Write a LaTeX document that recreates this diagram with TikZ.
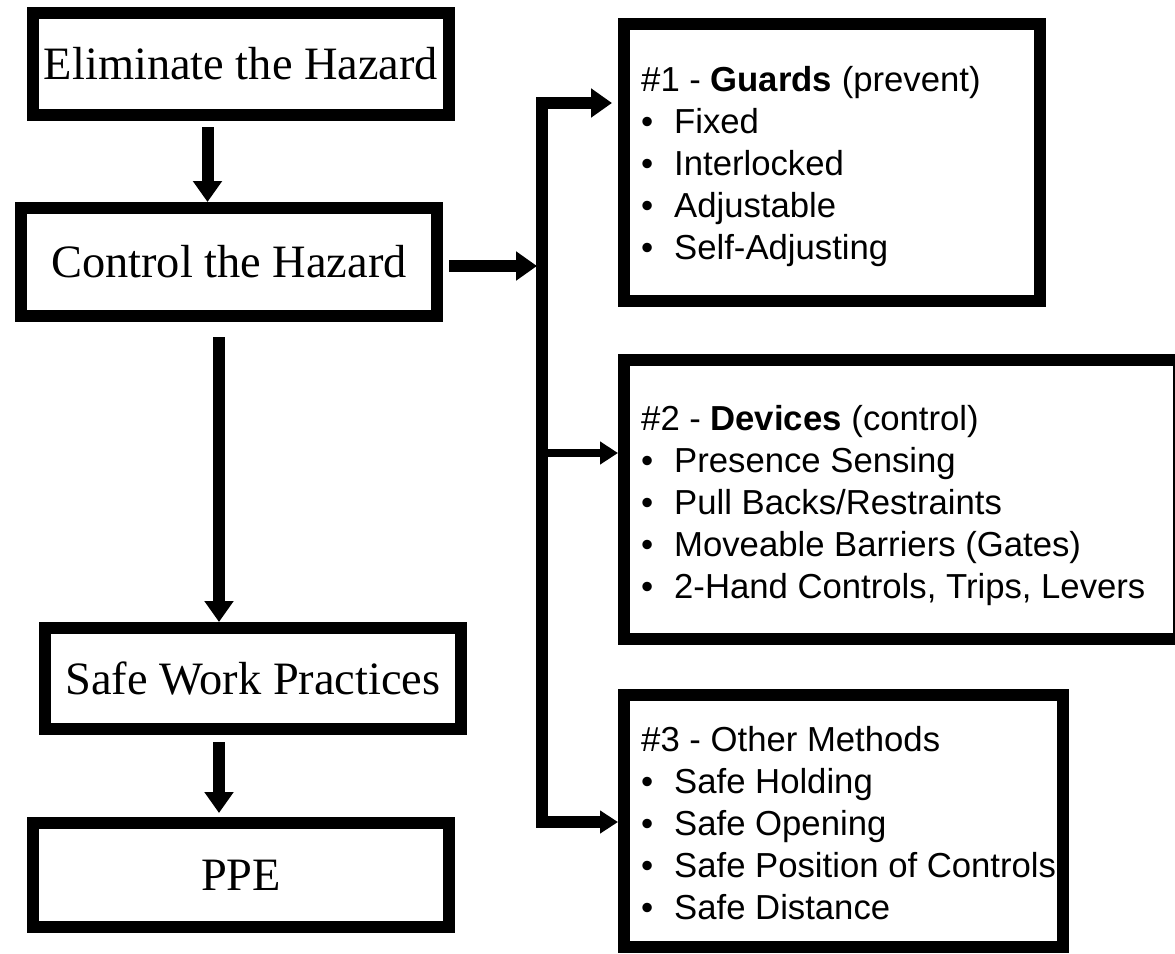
\documentclass[tikz,border=0pt]{standalone}
\usepackage{fontspec}
\setmainfont{Liberation Serif}
\setsansfont{Liberation Sans}
\usetikzlibrary{arrows.meta}
\newcommand{\itembul}{\makebox[33pt][l]{\textbullet}}
\begin{document}
\begin{tikzpicture}[x=1pt,y=-1pt,
  hazard/.style={draw,line width=12pt,minimum width=416pt,minimum height=104pt,inner sep=0pt,font=\fontsize{46.4pt}{50pt}\selectfont},
  method/.style={draw,line width=12pt,inner sep=0pt},
  items/.style={anchor=base west,inner sep=0pt,font=\sffamily\fontsize{34.7pt}{42pt}\selectfont},
  arr/.style={line width=12pt,-{Triangle[length=21pt,width=28pt]}},
  thin arr/.style={line width=8pt,-{Triangle[length=18pt,width=22pt]}}]
\useasboundingbox (0,0) rectangle (1175,953);
\node[hazard,minimum height=102pt] (elim) at (241,64) {Eliminate the Hazard};
\node[hazard,minimum height=108pt] (control) at (229,262) {Control the Hazard};
\node[hazard,minimum height=101pt] (safe) at (253,678.5) {Safe Work Practices};
\node[hazard] (ppe) at (241,875) {PPE};
\node[method,minimum width=416pt,minimum height=277pt] (guards) at (832,162.5) {};
\node[method,minimum width=555pt,minimum height=279pt] (devices) at (901.5,499.5) {};
\node[method,minimum width=439pt,minimum height=252pt] (other) at (843.5,821) {};
\node[items] (guardslist) at (641,91) {\begin{tabular}[t]{@{}l@{}}
  \#1 - \textbf{Guards} (prevent)\\
  \itembul Fixed\\
  \itembul Interlocked\\
  \itembul Adjustable\\
  \itembul Self-Adjusting
\end{tabular}};
\node[items] (deviceslist) at (641,430) {\begin{tabular}[t]{@{}l@{}}
  \#2 - \textbf{Devices} (control)\\
  \itembul Presence Sensing\\
  \itembul Pull Backs/Restraints\\
  \itembul Moveable Barriers (Gates)\\
  \itembul 2-Hand Controls, Trips, Levers
\end{tabular}};
\node[items] (otherlist) at (641,751) {\begin{tabular}[t]{@{}l@{}}
  \#3 - Other Methods\\
  \itembul Safe Holding\\
  \itembul Safe Opening\\
  \itembul Safe Position of Controls\\
  \itembul Safe Distance
\end{tabular}};
\coordinate (bustop) at (542,103);
\coordinate (busin) at (542,266);
\coordinate (busdev) at (542,453);
\coordinate (busbot) at (542,822);
\draw[arr,shorten <=6pt] ([xshift=-33.5pt]elim.south) -- ([xshift=-21.5pt]control.north);
\draw[arr,shorten <=15pt] ([xshift=-10pt]control.south) -- ([xshift=-34pt]safe.north);
\draw[arr,shorten <=7pt,shorten >=4pt] ([xshift=-34pt]safe.south) -- ([xshift=-22pt]ppe.north);
\draw[arr,shorten <=6pt,shorten >=5pt] ([yshift=-4pt]control.east) -- (busin);
\draw[arr,{Triangle[length=21pt,width=28pt]}-{Triangle[length=18pt,width=22pt]},line join=miter,shorten <=6pt]
  (guards.west |- bustop) -- (bustop) -- (busbot) -- (other.west |- busbot);
\draw[thin arr] (busdev) -- (devices.west |- busdev);
\end{tikzpicture}
\end{document}
